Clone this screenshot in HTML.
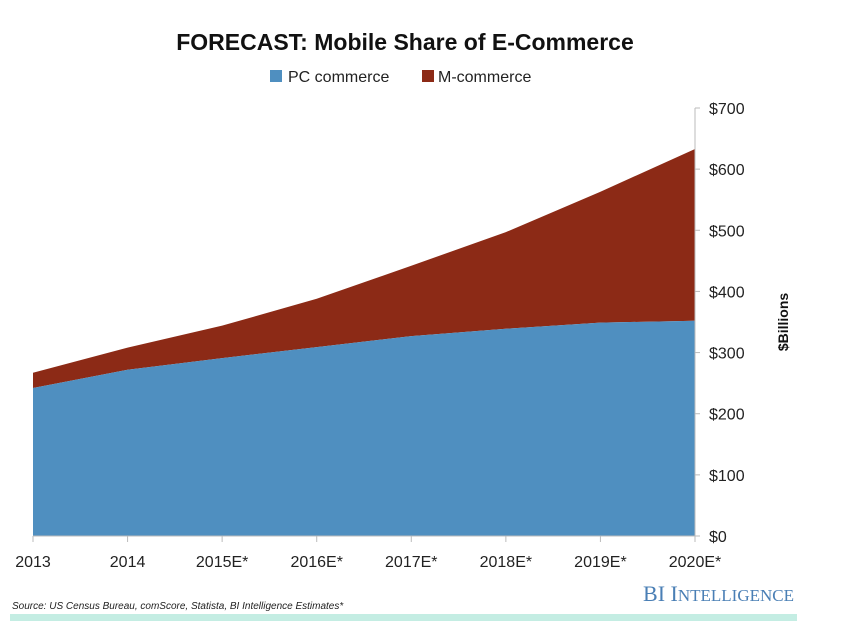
<!DOCTYPE html>
<html><head><meta charset="utf-8"><style>
body{margin:0;background:#fff;}
svg{display:block;font-family:"Liberation Sans",sans-serif;}
</style></head><body>
<svg width="842" height="630" id="c">
<text x="405" y="50" text-anchor="middle" font-size="23" font-weight="bold" fill="#111">FORECAST: Mobile Share of E-Commerce</text>
<g>
<rect x="270" y="70" width="12" height="12" fill="#4f8fc0"/>
<text x="288" y="82" font-size="16" fill="#222">PC commerce</text>
<rect x="422" y="70" width="12" height="12" fill="#8c2a16"/>
<text x="438" y="82" font-size="16" fill="#222">M-commerce</text>
</g>
<g id="plot"></g>
<text transform="translate(788,322) rotate(-90)" text-anchor="middle" font-size="14" font-weight="bold" fill="#111">$Billions</text>
<text x="794" y="601" text-anchor="end" font-size="22" fill="#4a7fb5" font-family="Liberation Serif,serif">BI I<tspan font-size="17">NTELLIGENCE</tspan></text>
<text x="12" y="609" font-size="10" font-style="italic" fill="#222">Source: US Census Bureau, comScore, Statista, BI Intelligence Estimates*</text>
<rect x="10" y="614" width="787" height="7" fill="#c4ede3"/>
</svg>
<script>
const categories=["2013","2014","2015E*","2016E*","2017E*","2018E*","2019E*","2020E*"];
const pcValues=[242,272,291,309,327,339,349,352];
const totalValues=[267,308,344,388,442,497,563,633];
const yTicks=[0,100,200,300,400,500,600,700];
const yTickLabels=["$0","$100","$200","$300","$400","$500","$600","$700"];
const ns="http://www.w3.org/2000/svg";
const plotG=document.getElementById('plot');
const x0=33,x1=695,yBase=536,yTop=108,yMax=700;
const xs=i=>x0+(x1-x0)*i/(categories.length-1);
const ys=v=>yBase-(yBase-yTop)*v/yMax;
function mk(t,a){const e=document.createElementNS(ns,t);for(const k in a)e.setAttribute(k,a[k]);plotG.appendChild(e);return e;}
const topPts=totalValues.map((v,i)=>xs(i)+','+ys(v)).join(' ');
const midPts=pcValues.map((v,i)=>xs(i)+','+ys(v));
const mArea=mk('polygon',{points:topPts+' '+midPts.slice().reverse().join(' '),fill:'#8c2a16'});


const pArea=mk('polygon',{points:midPts.join(' ')+' '+x1+','+yBase+' '+x0+','+yBase,fill:'#4f8fc0'});


const ax=mk('line',{x1:x0,x2:x1+5,y1:yBase,y2:yBase,stroke:'#bbb'});


const ay=mk('line',{x1:x1,x2:x1,y1:yTop,y2:yBase,stroke:'#bbb'});


yTicks.forEach((v,i)=>{
 const tk=mk('line',{x1:x1,x2:x1+5,y1:ys(v),y2:ys(v),stroke:'#bbb'});
 
 
 const t=mk('text',{x:x1+14,y:ys(v)+6,'font-size':16,fill:'#222'});t.textContent=yTickLabels[i];
 
 
});
categories.forEach((c,i)=>{
 const tk=mk('line',{x1:xs(i),x2:xs(i),y1:yBase,y2:yBase+6,stroke:'#bbb'});
 
 
 const t=mk('text',{x:xs(i),y:567,'font-size':16,fill:'#222','text-anchor':'middle'});t.textContent=c;
 
 
});
</script>
</body></html>
